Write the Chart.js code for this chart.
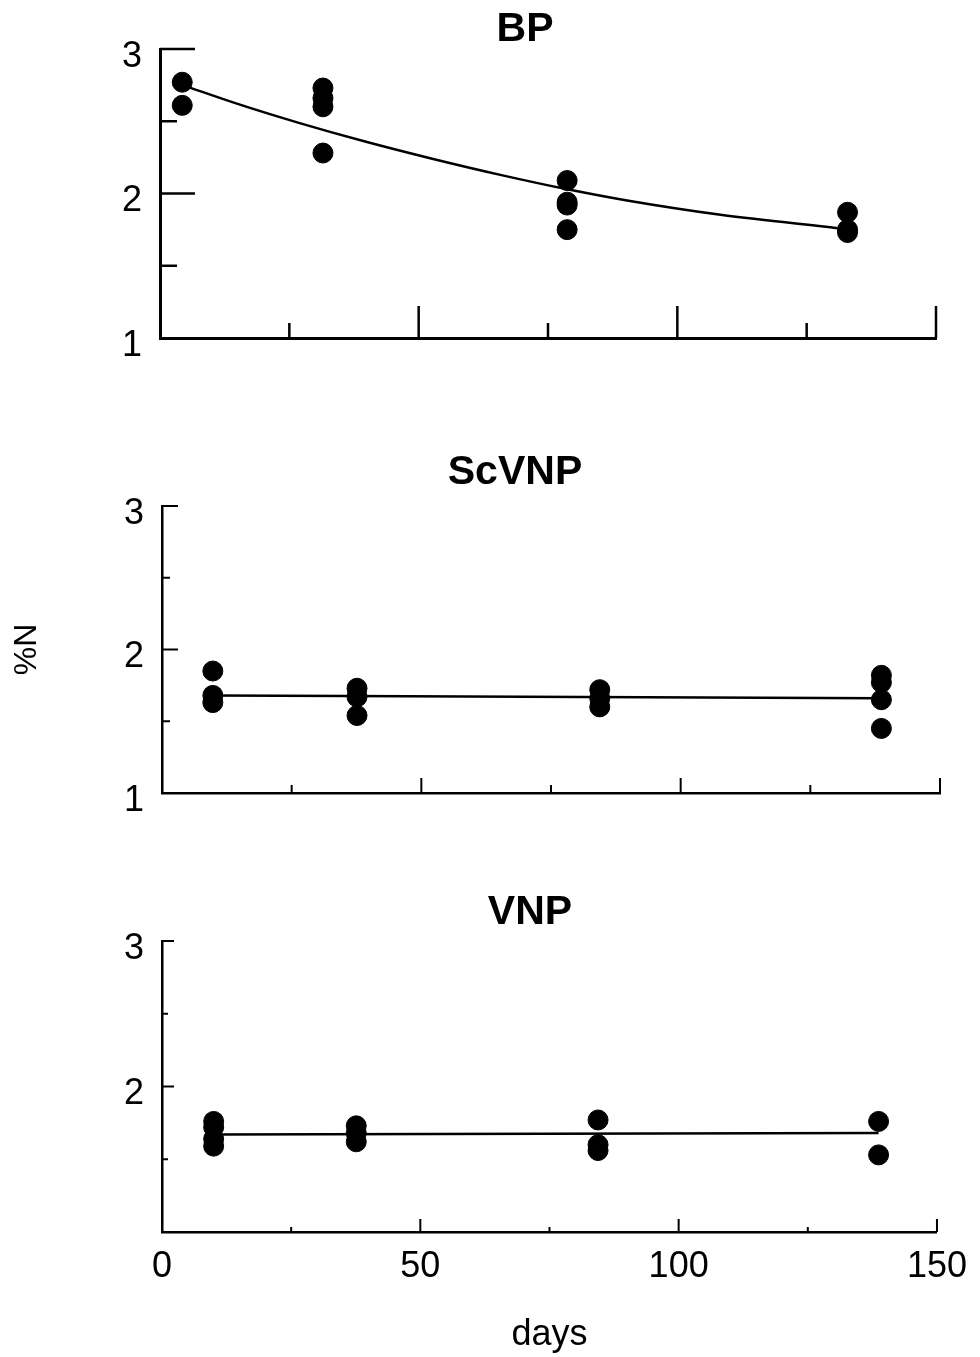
<!DOCTYPE html>
<html>
<head>
<meta charset="utf-8">
<script src="https://cdn.jsdelivr.net/npm/chart.js@4.4.1/dist/chart.umd.min.js"></script>
<style>
  body { margin: 0; background: #fff; }
  #wrap { position: relative; width: 980px; height: 1357px; }
  canvas { position: absolute; left: 0; }
</style>
</head>
<body>
<div id="wrap">
  <canvas id="bpChart" width="980" height="380" style="top:0"></canvas>
  <canvas id="scChart" width="980" height="420" style="top:420px"></canvas>
  <canvas id="vnChart" width="980" height="497" style="top:860px"></canvas>
</div>
<script>
// BP
const bpDays = [4.3, 4.3, 31.5, 31.5, 31.5, 31.5, 78.7, 78.7, 78.7, 78.7, 132.9, 132.9, 132.9];
const bpN = [2.77, 2.61, 2.73, 2.66, 2.60, 2.28, 2.09, 1.94, 1.92, 1.75, 1.87, 1.75, 1.73];
const bpFitDays = [5.2, 15, 27, 40, 53, 66, 79, 90, 108, 131];
const bpFitN = [2.74, 2.62, 2.487, 2.356, 2.237, 2.127, 2.027, 1.953, 1.854, 1.76];

// ScVNP
const scDays = [9.8, 9.8, 9.8, 37.6, 37.6, 37.6, 84.4, 84.4, 84.4, 138.7, 138.7, 138.7, 138.7];
const scN = [1.85, 1.68, 1.63, 1.73, 1.67, 1.54, 1.72, 1.66, 1.60, 1.82, 1.77, 1.65, 1.45];
const scFitDays = [9.8, 138.7];
const scFitN = [1.68, 1.66];

// VNP
const vnDays = [10, 10, 10, 10, 37.6, 37.6, 37.6, 84.4, 84.4, 84.4, 138.7, 138.7];
const vnN = [1.76, 1.72, 1.64, 1.59, 1.73, 1.68, 1.62, 1.77, 1.60, 1.56, 1.76, 1.53];
const vnFitDays = [10, 138.7];
const vnFitN = [1.67, 1.68];

const xTickLabels = ['0', '50', '100', '150'];
const yTickLabels = ['1', '2', '3'];

const FONT = '"Liberation Sans", Arial, sans-serif';

// ticks pointing into the plot, like the original figure
const innerTicks = {
  id: 'innerTicks',
  afterDatasetsDraw(chart, args, o) {
    const { ctx, chartArea } = chart;
    const x = chart.scales.x, y = chart.scales.y;
    ctx.save();
    ctx.strokeStyle = '#000';
    ctx.lineWidth = o.width;
    x.ticks.forEach(t => {
      if (t.value === 0) return;
      const len = t.value % 50 === 0 ? o.xMajor : o.xMinor;
      const px = x.getPixelForValue(t.value);
      ctx.beginPath();
      ctx.moveTo(px, chartArea.bottom);
      ctx.lineTo(px, chartArea.bottom - len);
      ctx.stroke();
    });
    y.ticks.forEach(t => {
      if (t.value === 1) return;
      const len = t.value % 1 === 0 ? o.yMajor : o.yMinor;
      const py = y.getPixelForValue(t.value);
      ctx.beginPath();
      ctx.moveTo(chartArea.left, py);
      ctx.lineTo(chartArea.left + len, py);
      ctx.stroke();
    });
    ctx.restore();
  }
};

const panelTitle = {
  id: 'panelTitle',
  afterDraw(chart, args, o) {
    const ctx = chart.ctx;
    ctx.save();
    ctx.fillStyle = '#000';
    ctx.font = 'bold 41px ' + FONT;
    ctx.textAlign = 'center';
    ctx.textBaseline = 'middle';
    ctx.fillText(o.text, o.x, o.y);
    ctx.restore();
  }
};

function toPoints(xs, ys) {
  return xs.map((d, i) => ({ x: d, y: ys[i] }));
}

function makePanel(id, cfg) {
  const ctx = document.getElementById(id).getContext('2d');
  return new Chart(ctx, {
    type: 'scatter',
    data: {
      datasets: [
        {
          data: toPoints(cfg.days, cfg.n),
          backgroundColor: '#000',
          borderColor: '#000',
          pointRadius: 10,
          pointHoverRadius: 10,
          showLine: false
        },
        {
          data: toPoints(cfg.fitDays, cfg.fitN),
          showLine: true,
          borderColor: '#000',
          borderWidth: 2.5,
          pointRadius: 0,
          tension: 0.4,
          cubicInterpolationMode: 'monotone'
        }
      ]
    },
    options: {
      responsive: false,
      animation: false,
      devicePixelRatio: 1,
      layout: { padding: { left: 0, right: cfg.right, top: cfg.top, bottom: 0 } },
      plugins: {
        legend: { display: false },
        tooltip: { enabled: false },
        innerTicks: cfg.ticks,
        panelTitle: cfg.title
      },
      scales: {
        x: {
          type: 'linear',
          min: 0,
          max: 150,
          grid: { display: false, drawTicks: false },
          border: { display: true, color: '#000', width: cfg.axisWidth },
          ticks: {
            display: cfg.showX,
            stepSize: 25,
            padding: 13,
            color: '#000',
            font: { family: FONT, size: 36 },
            maxRotation: 0,
            callback: v => xTickLabels.includes(String(v)) ? String(v) : ''
          },
          title: {
            display: cfg.showX,
            text: 'days',
            color: '#000',
            font: { family: FONT, size: 36 },
            padding: { top: 0, bottom: 0 }
          },
          afterFit: s => { s.height = cfg.xHeight; }
        },
        y: {
          type: 'linear',
          min: 1,
          max: 3,
          grid: { display: false, drawTicks: false },
          border: { display: true, color: '#000', width: cfg.axisWidth },
          ticks: {
            stepSize: 0.5,
            padding: 18,
            labelOffset: 8,
            color: '#000',
            font: { family: FONT, size: 36 },
            callback: v => (yTickLabels.includes(String(v)) && !(cfg.hideOne && v === 1)) ? String(v) : ''
          },
          title: {
            display: cfg.showY,
            text: '%N',
            color: '#000',
            font: { family: FONT, size: 32 },
            padding: { top: 8, bottom: 0 }
          },
          afterFit: s => { s.width = cfg.yWidth; }
        }
      }
    },
    plugins: [innerTicks, panelTitle]
  });
}

makePanel('bpChart', {
  days: bpDays, n: bpN, fitDays: bpFitDays, fitN: bpFitN,
  top: 49, right: 44, xHeight: 42, yWidth: 160, axisWidth: 3,
  showX: false, showY: false, hideOne: false,
  ticks: { width: 2.5, xMajor: 32, xMinor: 15, yMajor: 35, yMinor: 17 },
  title: { text: 'BP', x: 525, y: 30 }
});

makePanel('scChart', {
  days: scDays, n: scN, fitDays: scFitDays, fitN: scFitN,
  top: 86, right: 40, xHeight: 47, yWidth: 162, axisWidth: 2.5,
  showX: false, showY: true, hideOne: false,
  ticks: { width: 2, xMajor: 15, xMinor: 8, yMajor: 16, yMinor: 8 },
  title: { text: 'ScVNP', x: 515, y: 53 }
});

makePanel('vnChart', {
  days: vnDays, n: vnN, fitDays: vnFitDays, fitN: vnFitN,
  top: 81, right: 40, xHeight: 125, yWidth: 162, axisWidth: 2.5,
  showX: true, showY: false, hideOne: true,
  ticks: { width: 2, xMajor: 13, xMinor: 5, yMajor: 12, yMinor: 6 },
  title: { text: 'VNP', x: 530, y: 53 }
});
</script>
</body>
</html>
